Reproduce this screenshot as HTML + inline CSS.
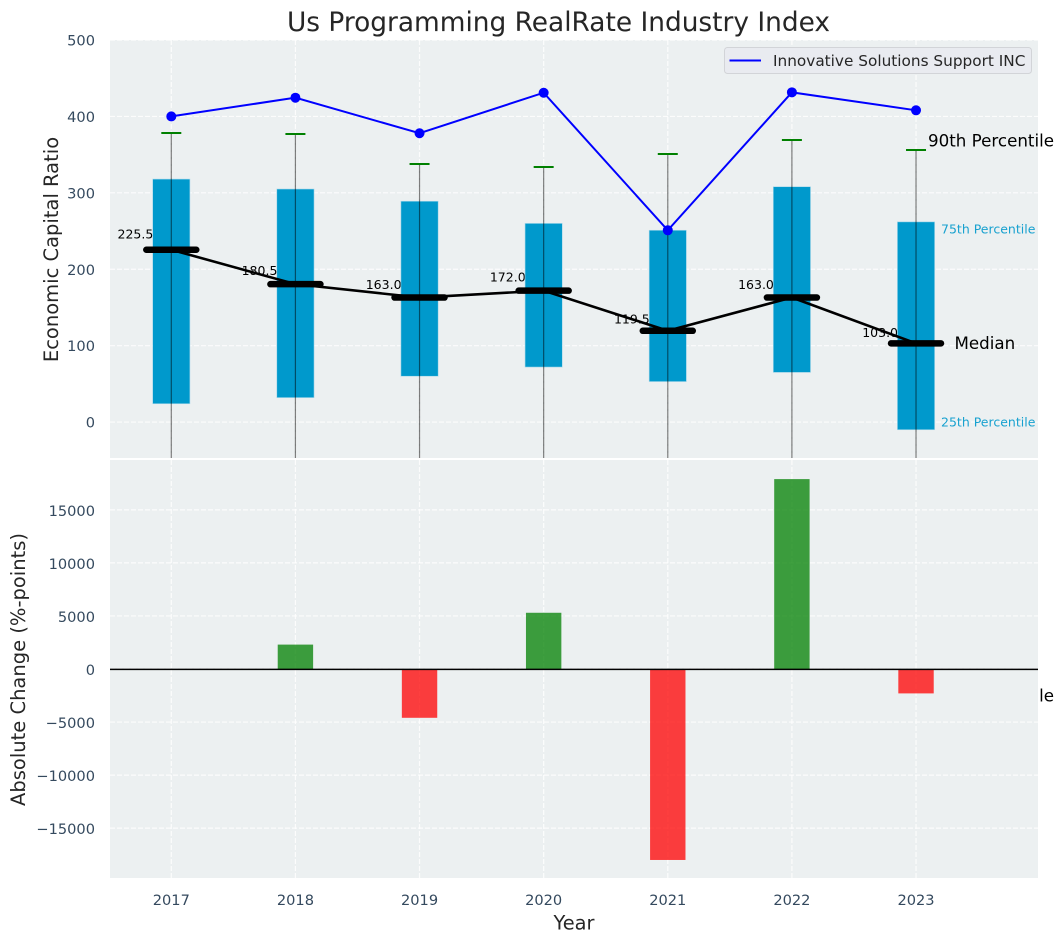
<!DOCTYPE html>
<html lang="en">
<head>
<meta charset="utf-8">
<title>Us Programming RealRate Industry Index</title>
<style>
html,body{margin:0;padding:0;background:#fff;width:1063px;height:942px;overflow:hidden}
svg{display:block;font-family:"DejaVu Sans","Liberation Sans",sans-serif}
</style>
</head>
<body>
<svg id="chart" xmlns="http://www.w3.org/2000/svg" width="1063" height="942" viewBox="0 0 1063 942">
<defs><clipPath id="top-clip"><rect x="110" y="40" width="928" height="418"/></clipPath></defs>
</svg>
<script>
const years = [2017, 2018, 2019, 2020, 2021, 2022, 2023];
const p90 = [378, 376.5, 338, 334, 351, 369, 356];
const p75 = [318, 305, 289, 260, 251, 308, 262];
const medians = [225.5, 180.5, 163.0, 172.0, 119.5, 163.0, 103.0];
const p25 = [24, 32, 60, 72, 53, 65, -10];
const p10 = [-300, -280, -250, -240, -260, -250, -358];
const companyValues = [400, 424.5, 378, 431, 251, 431.5, 408];
const absoluteChange = [0, 2300, -4600, 5300, -18000, 17900, -2300];
const topTicks = [0, 100, 200, 300, 400, 500];
const bottomTicks = [-15000, -10000, -5000, 0, 5000, 10000, 15000];
const companyName = 'Innovative Solutions Support INC';

const svg = document.getElementById('chart');
const NS = 'http://www.w3.org/2000/svg';
const plotLeft = 110, plotRight = 1038;
const topY0 = 458, topY1 = 40, botY0 = 878, botY1 = 460;
const x = v => 171.3 + (v - 2017) * 124.12;
const xUnit = 124.12;
const yTop = v => topY0 - (v + 47) * (topY0 - topY1) / 547;
const yBot = v => botY0 - (v + 19700) * (botY0 - botY1) / 39400;

function make(tag, attrs, text) {
  const el = document.createElementNS(NS, tag);
  for (const k in attrs) el.setAttribute(k, attrs[k]);
  if (text !== undefined) el.textContent = text;
  svg.appendChild(el);
  return el;
}
function fmtTick(v) { return v < 0 ? '\u2212' + Math.abs(v) : String(v); }

let el;
el = make('text', {x: 558.5, y: 31, 'text-anchor': 'middle', 'font-size': 26.4, fill: '#262626'}, 'Us Programming RealRate Industry Index');



// top axes background
el = make('rect', {x: plotLeft, y: topY1, width: plotRight - plotLeft, height: topY0 - topY1, fill: '#ecf0f1'});



// top grid + tick labels
topTicks.forEach(t => {
  el = make('line', {x1: plotLeft, x2: plotRight, y1: yTop(t), y2: yTop(t), stroke: '#fff', 'stroke-width': 1.2, 'stroke-dasharray': '5 2', opacity: 0.85});
  
  
  el = make('text', {x: 95, y: yTop(t) + 5.5, 'text-anchor': 'end', 'font-size': 14.6, fill: '#34495e'}, fmtTick(t));
  
  
});
years.forEach(yr => {
  el = make('line', {x1: x(yr), x2: x(yr), y1: topY1, y2: topY0, stroke: '#fff', 'stroke-width': 1.2, 'stroke-dasharray': '5 2', opacity: 0.85});
  
  
});

// median value labels (under marks), placed 5% above the median
years.forEach((yr, i) => {
  el = make('text', {x: x(yr) - 18, y: yTop(medians[i] * 1.05) - 2.5, 'text-anchor': 'end', 'font-size': 12.5, fill: '#000'}, medians[i].toFixed(1));
  
  
});

// boxes
years.forEach((yr, i) => {
  el = make('rect', {x: x(yr) - 0.15 * xUnit, y: yTop(p75[i]), width: 0.3 * xUnit, height: yTop(p25[i]) - yTop(p75[i]), fill: '#0099cc', stroke: '#a8d8ea', 'stroke-width': 0.6});
  
  
});

// whiskers + caps
years.forEach((yr, i) => {
  el = make('line', {x1: x(yr), x2: x(yr), y1: yTop(p90[i]), y2: yTop(p10[i]), stroke: '#000', 'stroke-opacity': 0.5, 'stroke-width': 1.2, 'clip-path': 'url(#top-clip)'});
  
  
  el = make('line', {x1: x(yr) - 10, x2: x(yr) + 10, y1: Math.round(yTop(p90[i])), y2: Math.round(yTop(p90[i])), stroke: '#008000', 'stroke-width': 2});
  
  
});

// median line
el = make('polyline', {points: years.map((yr, i) => x(yr) + ',' + yTop(medians[i])).join(' '), fill: 'none', stroke: '#000', 'stroke-width': 2.6});


years.forEach((yr, i) => {
  el = make('line', {x1: x(yr) - 25, x2: x(yr) + 25, y1: yTop(medians[i]), y2: yTop(medians[i]), stroke: '#000', 'stroke-width': 6.5, 'stroke-linecap': 'round'});
  
  
});

// company line
el = make('polyline', {points: years.map((yr, i) => x(yr) + ',' + yTop(companyValues[i])).join(' '), fill: 'none', stroke: '#0000ff', 'stroke-width': 2});


years.forEach((yr, i) => {
  el = make('circle', {cx: x(yr), cy: yTop(companyValues[i]), r: 5, fill: '#0000ff'});
  
  
});

// percentile annotations for the last year
const last = years.length - 1;
el = make('text', {x: x(years[last]) + 12, y: yTop(p90[last]) - 3.5, 'font-size': 16.7, fill: '#000'}, '90th Percentile');


el = make('text', {x: x(years[last]) + 25, y: yTop(p75[last]) + 11.5, 'font-size': 12.5, fill: '#0099cc', opacity: 0.9}, '75th Percentile');


el = make('text', {x: x(years[last]) + 38.5, y: yTop(medians[last]) + 5.5, 'font-size': 16.7, fill: '#000'}, 'Median');


el = make('text', {x: x(years[last]) + 25, y: yTop(p25[last]) - 3, 'font-size': 12.5, fill: '#0099cc', opacity: 0.9}, '25th Percentile');


el = make('text', {x: x(years[last]) + 12, y: yTop(p10[last]) + 6, 'font-size': 16.7, fill: '#000'}, '10th Percentile');



// legend
el = make('rect', {x: 724.5, y: 47.5, width: 307, height: 26, rx: 3, fill: '#e9ebf0', stroke: '#d2d4d8', 'stroke-width': 1});


el = make('line', {x1: 729.5, x2: 761, y1: 60.5, y2: 60.5, stroke: '#0000ff', 'stroke-width': 2});


el = make('text', {x: 773, y: 66, 'font-size': 15.3, fill: '#262626'}, companyName);



// bottom axes
el = make('rect', {x: plotLeft, y: botY1, width: plotRight - plotLeft, height: botY0 - botY1, fill: '#ecf0f1'});


bottomTicks.forEach(t => {
  el = make('line', {x1: plotLeft, x2: plotRight, y1: yBot(t), y2: yBot(t), stroke: '#fff', 'stroke-width': 1.2, 'stroke-dasharray': '5 2', opacity: 0.85});
  
  
  el = make('text', {x: 95, y: yBot(t) + 6, 'text-anchor': 'end', 'font-size': 14.6, fill: '#34495e'}, fmtTick(t));
  
  
});
years.forEach(yr => {
  el = make('line', {x1: x(yr), x2: x(yr), y1: botY1, y2: botY0, stroke: '#fff', 'stroke-width': 1.2, 'stroke-dasharray': '5 2', opacity: 0.85});
  
  
  el = make('text', {x: x(yr), y: 905, 'text-anchor': 'middle', 'font-size': 14.6, fill: '#34495e'}, String(yr));
  
  
});

// change bars
years.forEach((yr, i) => {
  const v = absoluteChange[i];
  el = make('rect', {x: x(yr) - 17.7, y: Math.min(yBot(v), yBot(0)), width: 35.4, height: Math.abs(yBot(v) - yBot(0)), fill: v >= 0 ? '#008000' : '#ff0000', opacity: 0.75});
  
  
});
el = make('line', {x1: plotLeft, x2: plotRight, y1: yBot(0) + 0.4, y2: yBot(0) + 0.4, stroke: '#000', 'stroke-width': 1.5});



// axis titles
el = make('text', {x: 574, y: 929.5, 'text-anchor': 'middle', 'font-size': 19.4, fill: '#262626'}, 'Year');


el = make('text', {transform: 'translate(58 249.5) rotate(-90)', 'text-anchor': 'middle', 'font-size': 19.5, fill: '#262626'}, 'Economic Capital Ratio');


el = make('text', {transform: 'translate(25 669.5) rotate(-90)', 'text-anchor': 'middle', 'font-size': 19.5, fill: '#262626'}, 'Absolute Change (%-points)');


</script>
</body>
</html>
